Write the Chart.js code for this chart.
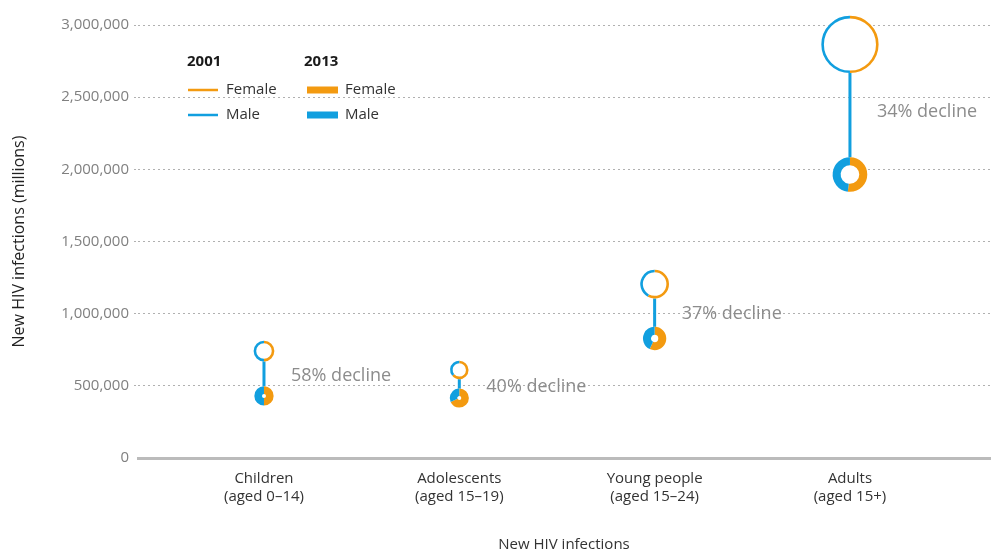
<!DOCTYPE html>
<html><head><meta charset="utf-8">
<script src="https://cdn.jsdelivr.net/npm/chart.js@4"></script>
<style>html,body{margin:0;padding:0;background:#fff}</style>
</head><body>
<canvas id="c" width="993" height="551"></canvas>
<script>
const categories = [["Children","(aged 0–14)"],["Adolescents","(aged 15–19)"],["Young people","(aged 15–24)"],["Adults","(aged 15+)"]];
const infections2001 = [741000, 610000, 1205000, 2865000];
const infections2013 = [430000, 416000, 828000, 1964000];
const femaleShare2001 = [0.5, 0.64, 0.58, 0.5];
const femaleShare2013 = [0.5, 0.68, 0.57, 0.52];
const declineLabels = ["58% decline","40% decline","37% decline","34% decline"];
const yTickValues = [0, 500000, 1000000, 1500000, 2000000, 2500000, 3000000];

const ORANGE = '#f39a10';
const BLUE = '#119fdf';
const FONT = "'Open Sans', sans-serif";
Chart.defaults.font.family = FONT;

function r2001(v){ return 4 + v * 8.6e-6; }
function r2013(v){ return 7.5 + v * 5e-6; }

const connectorSets = categories.map((c, i) => ({
  type: 'line',
  data: [{x: i + 1, y: infections2001[i]}, {x: i + 1, y: infections2013[i]}],
  borderColor: BLUE, borderWidth: 3, pointRadius: 0, order: 5
}));

const bubbles2001 = {
  type: 'bubble', label: '2001',
  data: infections2001.map((v, i) => ({x: i + 1, y: v, r: r2001(v)})),
  backgroundColor: 'rgba(0,0,0,0)', borderWidth: 0, order: 1
};
const bubbles2013 = {
  type: 'bubble', label: '2013',
  data: infections2013.map((v, i) => ({x: i + 1, y: v, r: r2013(v)})),
  backgroundColor: 'rgba(0,0,0,0)', borderWidth: 0, order: 1
};

function splitRing(ctx, x, y, radius, width, f){
  const start = -Math.PI / 2;
  const mid = start + 2 * Math.PI * f;
  ctx.lineWidth = width;
  ctx.lineCap = 'butt';
  ctx.beginPath(); ctx.strokeStyle = ORANGE; ctx.arc(x, y, radius, start, mid); ctx.stroke();
  ctx.beginPath(); ctx.strokeStyle = BLUE; ctx.arc(x, y, radius, mid, start + 2 * Math.PI); ctx.stroke();
}

const markPlugin = {
  id: 'marks',
  afterDatasetsDraw(chart){
    const ctx = chart.ctx;
    const xs = chart.scales.x, ys = chart.scales.y;
    ctx.save();
    // decline labels
    ctx.font = "18px " + FONT;
    ctx.fillStyle = '#8c8c8c';
    ctx.textBaseline = 'middle';
    ctx.textAlign = 'left';
    declineLabels.forEach((t, i) => {
      const px = xs.getPixelForValue(i + 1) + 27;
      const py = ys.getPixelForValue((infections2001[i] + infections2013[i]) / 2) + 2.5;
      ctx.fillText(t, px, py);
    });
    // 2001 rings
    const m1 = chart.getDatasetMeta(chart.data.datasets.indexOf(bubbles2001));
    m1.data.forEach((el, i) => {
      const r = el.options.radius;
      ctx.beginPath(); ctx.fillStyle = '#fff'; ctx.arc(el.x, el.y, r, 0, 2 * Math.PI); ctx.fill();
      splitRing(ctx, el.x, el.y, r - 1.3, 2.6, femaleShare2001[i]);
    });
    // 2013 donuts
    const m2 = chart.getDatasetMeta(chart.data.datasets.indexOf(bubbles2013));
    m2.data.forEach((el, i) => {
      const r = el.options.radius;
      const t = Math.min(8, r - 2);
      ctx.beginPath(); ctx.fillStyle = '#fff'; ctx.arc(el.x, el.y, r, 0, 2 * Math.PI); ctx.fill();
      splitRing(ctx, el.x, el.y, r - t / 2, t, femaleShare2013[i]);
    });
    // legend
    ctx.textBaseline = 'middle';
    ctx.fillStyle = '#1a1a1a';
    ctx.font = "bold 15px " + FONT;
    ctx.fillText('2001', 187, 62);
    ctx.fillText('2013', 304, 62);
    ctx.font = "15px " + FONT;
    ctx.fillStyle = '#333';
    ctx.fillText('Female', 226, 90);
    ctx.fillText('Male', 226, 115);
    ctx.fillText('Female', 345, 90);
    ctx.fillText('Male', 345, 115);
    ctx.lineWidth = 2.5;
    ctx.beginPath(); ctx.strokeStyle = ORANGE; ctx.moveTo(188, 90); ctx.lineTo(218, 90); ctx.stroke();
    ctx.beginPath(); ctx.strokeStyle = BLUE; ctx.moveTo(188, 115); ctx.lineTo(218, 115); ctx.stroke();
    ctx.fillStyle = ORANGE; ctx.fillRect(307, 86.5, 31, 7);
    ctx.fillStyle = BLUE; ctx.fillRect(307, 111.5, 31, 7);
    ctx.restore();
  }
};

new Chart(document.getElementById('c'), {
  type: 'bubble',
  data: { datasets: [...connectorSets, bubbles2001, bubbles2013] },
  options: {
    responsive: false,
    animation: false,
    layout: { autoPadding: false, padding: { top: 25, right: 3, left: 0, bottom: 0 } },
    plugins: { legend: { display: false }, tooltip: { enabled: false } },
    scales: {
      x: {
        type: 'linear', min: 0.355, max: 4.717,
        afterBuildTicks(s){ s.ticks = categories.map((c, i) => ({value: i + 1})); },
        afterFit(s){ s.height = 93; },
        ticks: {
          callback: (v) => categories[Math.round(v) - 1] || '',
          color: '#333', font: { size: 15 }, padding: 12, maxRotation: 0, autoSkip: false
        },
        grid: { display: false, drawTicks: false },
        border: { display: true, color: '#bbbbbb', width: 3 },
        title: { display: true, text: 'New HIV infections', color: '#333', font: { size: 15 }, padding: { top: 0, bottom: -3 } }
      },
      y: {
        min: 0, max: 3000000,
        afterBuildTicks(s){ s.ticks = yTickValues.map(v => ({value: v})); },
        afterFit(s){ s.width = 138; },
        ticks: {
          color: '#808080', font: { size: 15 }, padding: 5,
          callback: (v) => v.toLocaleString('en-US')
        },
        grid: {
          color: (c) => c.tick && c.tick.value === 0 ? 'rgba(0,0,0,0)' : '#b0b0b0',
          lineWidth: 1, tickLength: 4, tickBorderDash: [2, 3],
          borderDash: [2, 3]
        },
        border: { display: false, dash: [2, 3] },
        title: { display: true, text: 'New HIV infections (millions)', color: '#222', font: { size: 16 }, padding: { top: 10, bottom: 0 } }
      }
    }
  },
  plugins: [markPlugin]
});
</script>
</body></html>
